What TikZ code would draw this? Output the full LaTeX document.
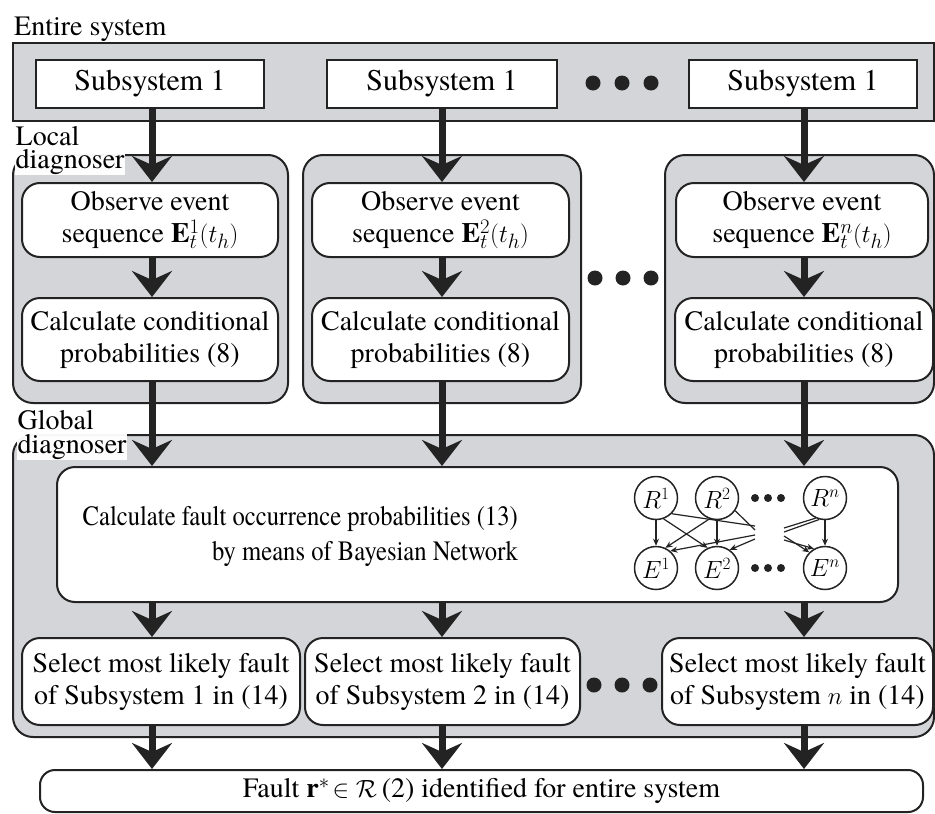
\documentclass[tikz,border=0pt]{standalone}
\usepackage{fontspec}
\IfFontExistsTF{texgyretermes-regular.otf}
  {\setmainfont{texgyretermes}[Extension=.otf,UprightFont=*-regular,ItalicFont=*-italic,BoldFont=*-bold,BoldItalicFont=*-bolditalic]}
  {\setmainfont{Liberation Serif}}
\usetikzlibrary{arrows.meta,calc}
\definecolor{boxgray}{RGB}{211,213,216}
\definecolor{ink}{RGB}{35,35,35}
\begin{document}
\begin{tikzpicture}[x=1pt,y=-1pt,
  font=\fontsize{28}{32}\selectfont,
  outerbox/.style={draw=ink,line width=2pt,fill=boxgray,rounded corners=20pt,inner sep=0pt},
  sysbox/.style={draw=ink,line width=2pt,fill=boxgray,inner sep=0pt},
  sqbox/.style={draw=ink,line width=2pt,fill=white,inner sep=0pt,font=\fontsize{30}{32}\selectfont},
  procbox/.style={draw=ink,line width=2pt,fill=white,rounded corners=18pt,inner sep=0pt,align=center},
  bigarrow/.style={draw=ink,line width=7pt,-{Stealth[length=26pt,width=40pt,inset=9pt]}},
  lbl/.style={anchor=base west,inner sep=0pt},
  halo/.style={anchor=base west,inner sep=0.5pt,fill=white,fill opacity=0.8,text opacity=1},
  dotnode/.style={circle,fill=ink,inner sep=0pt,minimum size=15pt},
  bndot/.style={circle,fill=ink,inner sep=0pt,minimum size=8pt},
  bnnode/.style={circle,draw=ink,line width=1.5pt,fill=white,inner sep=0pt,minimum size=43pt,font=\fontsize{24}{26}\selectfont},
  bnline/.style={draw=ink,line width=1.2pt},
  bnarrow/.style={draw=ink,line width=1.2pt,-{Stealth[length=7pt,width=6pt]}}
]
\useasboundingbox (0,0) rectangle (935,814);

% ---------- entire system ----------
\node[lbl] (lentire) at (14,35) {Entire system};
\node[sysbox,minimum width=921pt,minimum height=78pt] (entire) at (473.5,82) {};
\node[sqbox,minimum width=228pt,minimum height=48pt] (sub1) at (150,84) {Subsystem 1};
\node[sqbox,minimum width=230pt,minimum height=48pt] (sub2) at (442,84) {Subsystem 1};
\node[sqbox,minimum width=228pt,minimum height=48pt] (sub3) at (803,84) {Subsystem 1};
\node[dotnode] (ta) at (593,83) {};
\node[dotnode] (tb) at (622,83) {};
\node[dotnode] (tc) at (651,83) {};

% ---------- local diagnosers ----------
\node[outerbox,minimum width=275pt,minimum height=248pt] (loc1) at (150.5,279) {};
\node[outerbox,minimum width=278pt,minimum height=248pt] (loc2) at (442,279) {};
\node[outerbox,minimum width=269pt,minimum height=248pt] (loc3) at (799.5,279) {};

\node[procbox,minimum width=256pt,minimum height=74pt] (obs1) at (150,220)
  {Observe event\\ sequence $\mathbf{E}^{1}_{t}(t_h)$};
\node[procbox,minimum width=257pt,minimum height=74pt] (obs2) at (440.5,220)
  {Observe event\\ sequence $\mathbf{E}^{2}_{t}(t_h)$};
\node[procbox,minimum width=252pt,minimum height=74pt] (obs3) at (802,220)
  {Observe event\\ sequence $\mathbf{E}^{n}_{t}(t_h)$};

\node[procbox,minimum width=256pt,minimum height=83pt] (calc1) at (150,339.5)
  {Calculate conditional\\ probabilities (8)};
\node[procbox,minimum width=257pt,minimum height=83pt] (calc2) at (440.5,339.5)
  {Calculate conditional\\ probabilities (8)};
\node[procbox,minimum width=258pt,minimum height=83pt] (calc3) at (804,339.5)
  {Calculate conditional\\ probabilities (8)};

\node[dotnode] (ma) at (595,278) {};
\node[dotnode] (mb) at (623,278) {};
\node[dotnode] (mc) at (651,278) {};

\node[halo] (lloc1) at (15,145) {Local};
\node[halo] (lloc2) at (15,168) {diagnoser};

% ---------- global diagnoser ----------
\node[outerbox,minimum width=921pt,minimum height=302pt] (glob) at (473.5,586) {};
\node[procbox,minimum width=841pt,minimum height=135pt] (bayes) at (477.5,534.5) {};
\node[align=right,inner sep=0pt,anchor=east,xscale=0.88,transform shape,font=\fontsize{28}{35}\selectfont] (btext) at (518,536)
  {Calculate fault occurrence probabilities (13)\\ by means of Bayesian Network};

\node[halo] (lglob1) at (17,429) {Global};
\node[halo] (lglob2) at (17,453) {diagnoser};

% Bayesian network
\node[bnnode] (R1) at (656,498) {$R^{1}$};
\node[bnnode] (R2) at (717,498) {$R^{2}$};
\node[bnnode] (Rn) at (825,498) {$R^{n}$};
\node[bnnode] (E1) at (656,568) {$E^{1}$};
\node[bnnode] (E2) at (717,568) {$E^{2}$};
\node[bnnode] (En) at (825,568) {$E^{n}$};
\node[bndot] (bra) at (755,498) {};
\node[bndot] (brb) at (768,498) {};
\node[bndot] (brc) at (781,498) {};
\node[bndot] (bea) at (755,568) {};
\node[bndot] (beb) at (768,568) {};
\node[bndot] (bec) at (781,568) {};

\coordinate (L1) at (755,526);
\coordinate (L2) at (755,530);
\coordinate (L3) at (755,535);
\coordinate (L4) at (755,539);
\coordinate (M1) at (784,528);
\coordinate (M2) at (784,532);
\coordinate (M3) at (784,536);
\coordinate (M4) at (784,540);

\draw[bnarrow] (R1.south) -- (E1.north);
\draw[bnarrow] (R2.south) -- (E2.north);
\draw[bnarrow] (Rn.south) -- (En.north);
\draw[bnarrow] (R1.-70) -- (E2.115);
\draw[bnarrow] (R2.-110) -- (E1.65);
\draw[bnline] (R1.-45) -- (L1);
\draw[bnline] (R2.-35) -- (L2);
\draw[bnarrow] (L3) -- (E1.50);
\draw[bnarrow] (L4) -- (E2.55);
\draw[bnline] (Rn.-115) -- (M1);
\draw[bnline] (Rn.-105) -- (M2);
\draw[bnarrow] (M3) -- (En.135);
\draw[bnarrow] (M4) -- (En.120);

% select boxes
\node[procbox,minimum width=278pt,minimum height=87pt] (sel1) at (161,681.5)
  {Select most likely fault\\ of Subsystem 1 in (14)};
\node[procbox,minimum width=275pt,minimum height=87pt] (sel2) at (442.5,681.5)
  {Select most likely fault\\ of Subsystem 2 in (14)};
\node[procbox,minimum width=271pt,minimum height=87pt] (sel3) at (797.5,681.5)
  {Select most likely fault\\ of Subsystem $n$ in (14)};
\node[dotnode] (ba) at (594,685) {};
\node[dotnode] (bb) at (622,685) {};
\node[dotnode] (bc) at (650,685) {};

% final
\node[procbox,rounded corners=15pt,minimum width=883pt,minimum height=42pt] (final) at (481.5,791)
  {Fault $\mathbf{r}^{*}\!\in\mathcal{R}$\,(2) identified for entire system};

% ---------- big arrows ----------
\coordinate (c1) at (152,0);
\coordinate (c2) at (442,0);
\coordinate (c3) at (804,0);
\draw[bigarrow] (sub1.south -| c1) -- (obs1.north -| c1);
\draw[bigarrow] (sub2.south -| c2) -- (obs2.north -| c2);
\draw[bigarrow] (sub3.south -| c3) -- (obs3.north -| c3);
\draw[bigarrow] (obs1.south -| c1) -- (calc1.north -| c1);
\draw[bigarrow] (obs2.south -| c2) -- (calc2.north -| c2);
\draw[bigarrow] (obs3.south -| c3) -- (calc3.north -| c3);
\draw[bigarrow] (calc1.south -| c1) -- (bayes.north -| c1);
\draw[bigarrow] (calc2.south -| c2) -- (bayes.north -| c2);
\draw[bigarrow] (calc3.south -| c3) -- (bayes.north -| c3);
\draw[bigarrow] (bayes.south -| c1) -- (sel1.north -| c1);
\draw[bigarrow] (bayes.south -| c2) -- (sel2.north -| c2);
\draw[bigarrow] (bayes.south -| c3) -- (sel3.north -| c3);
\draw[bigarrow] (sel1.south -| c1) -- (final.north -| c1);
\draw[bigarrow] (sel2.south -| c2) -- (final.north -| c2);
\draw[bigarrow] (sel3.south -| c3) -- (final.north -| c3);

% labels on top of arrows
\node[halo] at (lloc2.base west) {diagnoser};
\node[halo] at (lglob2.base west) {diagnoser};
\end{tikzpicture}
\end{document}
